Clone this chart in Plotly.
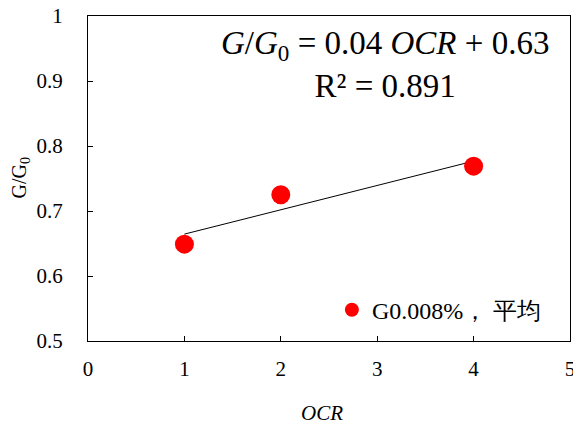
import numpy as np
import plotly.graph_objects as go

ocr = [1, 2, 4]
g_ratio = [0.649, 0.725, 0.769]
series_name = "G0.008%， 平均"
x_ticks = [0, 1, 2, 3, 4, 5]
y_ticks = [0.5, 0.6, 0.7, 0.8, 0.9, 1.0]
y_tick_text = ["0.5", "0.6", "0.7", "0.8", "0.9", "1"]
equation_lines = ["<i>G</i>/<i>G</i><sub>0</sub> = 0.04 <i>OCR</i> + 0.63", "R² = 0.891"]
x_title = "<i>OCR</i>"
y_title = "G/G<sub>0</sub>"

slope, intercept = np.polyfit(ocr, g_ratio, 1)
line_x = [min(ocr), max(ocr)]
line_y = list(np.polyval([slope, intercept], line_x))

serif = "Liberation Serif"

fig = go.Figure()
fig.add_trace(go.Scatter(x=line_x, y=line_y, mode="lines",
                         line=dict(color="black", width=1), showlegend=False,
                         hoverinfo="skip"))
fig.add_trace(go.Scatter(x=ocr, y=g_ratio, mode="markers", name=series_name,
                         showlegend=False,
                         marker=dict(color="#ff0000", size=19, line=dict(width=0))))
fig.add_trace(go.Scatter(x=[None], y=[None], mode="markers", name=series_name,
                         showlegend=True,
                         marker=dict(color="#ff0000", size=14, line=dict(width=0))))

fig.update_layout(
    width=573, height=427,
    margin=dict(l=88, r=3, t=16, b=86, autoexpand=False),
    paper_bgcolor="white", plot_bgcolor="white",
    font=dict(family=serif, size=21, color="black"),
    showlegend=True,
    legend=dict(x=0.506, y=0.095, xanchor="left", yanchor="middle",
                bgcolor="rgba(0,0,0,0)", font=dict(family=serif, size=24),
                itemwidth=30, borderwidth=0, tracegroupgap=0),
    xaxis=dict(range=[0, 5], tickvals=x_ticks, ticks="inside", ticklen=5,
               tickcolor="black", showline=True, linecolor="black", linewidth=1,
               mirror=True, showgrid=False, zeroline=False, automargin=False,
               ticklabelstandoff=9, ticklabeloverflow="allow",
               tickfont=dict(family=serif, size=21)),
    yaxis=dict(range=[0.5, 1.0], tickvals=y_ticks, ticktext=y_tick_text,
               ticks="inside", ticklen=5, tickcolor="black",
               showline=True, linecolor="black", linewidth=1, mirror=True,
               showgrid=False, zeroline=False, ticklabelstandoff=20,
               automargin=False, ticklabeloverflow="allow",
               tickfont=dict(family=serif, size=21)),
    annotations=[
        dict(x=0.616, y=0.852, xref="paper", yref="paper",
             text="<br>".join(equation_lines),
             showarrow=False, align="center", xanchor="center", yanchor="middle",
             font=dict(family=serif, size=33, color="black")),
        dict(x=0.4855, y=-0.2215, xref="paper", yref="paper", text=x_title,
             showarrow=False, xanchor="center", yanchor="middle",
             font=dict(family=serif, size=21, color="black")),
        dict(x=-0.141, y=0.5, xref="paper", yref="paper", text=y_title,
             showarrow=False, xanchor="center", yanchor="middle", textangle=-90,
             font=dict(family=serif, size=20, color="black")),
    ],
)

fig.write_html("out.html", config={"displayModeBar": False},
               post_script="document.body.style.margin='0';document.body.style.padding='0';")
